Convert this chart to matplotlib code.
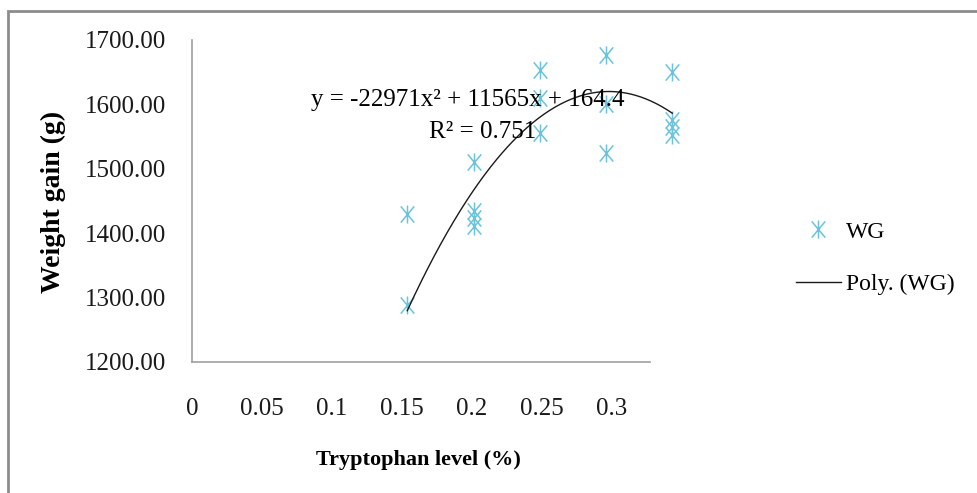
import numpy as np
import matplotlib
matplotlib.use('Agg')
import matplotlib.pyplot as plt
from matplotlib.path import Path
from matplotlib.lines import Line2D
from matplotlib.patches import Rectangle

# data
trp = [0.13, 0.13,
       0.17, 0.17, 0.17, 0.17,
       0.21, 0.21, 0.21,
       0.25, 0.25, 0.25,
       0.29, 0.29, 0.29, 0.29]
wg = [1430, 1289,
      1510, 1434, 1423, 1411,
      1653, 1610, 1555,
      1676, 1600, 1525,
      1651, 1576, 1565, 1553]

# trendline as printed on the chart
poly_coef = [-22971, 11565, 164.4]
eq_text = 'y = -22971x² + 11565x + 164.4'
r2_text = 'R² = 0.751'

yticks = [1200, 1300, 1400, 1500, 1600, 1700]
xticks = [0, 0.05, 0.1, 0.15, 0.2, 0.25, 0.3]
xticklabels = ['0', '0.05', '0.1', '0.15', '0.2', '0.25', '0.3']

plt.rcParams['font.family'] = ['Liberation Serif', 'DejaVu Serif']

W, H = 978, 493
fig = plt.figure(figsize=(W / 100, H / 100), dpi=100)

# outer chart frame (cut off on right and bottom)
fig.patches.append(Rectangle((8 / W, -0.1), 1.2, 1 - 11 / H + 0.1, transform=fig.transFigure,
                             fill=False, edgecolor='#8c8c8c', linewidth=2))

ax = fig.add_axes([192 / W, (H - 362) / H, (650 - 192) / W, (362 - 40) / H])
ax.set_xlim(0, 458 / 1656)
ax.set_ylim(1200, 1700)

star = Path([(0, -1), (0, 1), (-0.75, -0.9), (0.75, 0.9), (-0.75, 0.9), (0.75, -0.9)],
            [Path.MOVETO, Path.LINETO, Path.MOVETO, Path.LINETO, Path.MOVETO, Path.LINETO])

ax.plot(trp, wg, linestyle='none', marker=star, markersize=13, markeredgewidth=1.1,
        color='#6cc3da', clip_on=False, zorder=2)

xs = np.linspace(min(trp), max(trp), 200)
ax.plot(xs, np.polyval(poly_coef, xs), color='#1a1a1a', linewidth=1, clip_on=False, zorder=3)

for side in ['top', 'right']:
    ax.spines[side].set_visible(False)
for side in ['left', 'bottom']:
    ax.spines[side].set_color('#a0a0a0')
    ax.spines[side].set_linewidth(1.2)

ax.set_xticks([])
ax.set_yticks(yticks)
ax.set_yticklabels([f'{v:.2f}' for v in yticks])
ax.tick_params(axis='y', length=0, pad=19, labelsize=18, labelcolor='#1a1a1a')

sec = ax.secondary_xaxis('bottom', functions=(lambda x: x * 1656 / 1400, lambda x: x * 1400 / 1656))
sec.spines['bottom'].set_visible(False)
sec.set_xticks(xticks)
sec.set_xticklabels(xticklabels)
sec.tick_params(length=0, pad=26, labelsize=18, labelcolor='#1a1a1a')

ax.text(468 / W, (H - 100) / H, eq_text, transform=fig.transFigure, ha='center', va='center',
        fontsize=18, zorder=4)
ax.text(483 / W, (H - 132) / H, r2_text, transform=fig.transFigure, ha='center', va='center',
        fontsize=18, zorder=4)

fig.text(418 / W, (H - 460) / H, 'Tryptophan level (%)', ha='center', va='center',
         fontsize=16, fontweight='bold')
fig.text(53 / W, (H - 202) / H, 'Weight gain (g)', ha='center', va='center',
         fontsize=20, fontweight='bold', rotation=90)

handles = [Line2D([], [], linestyle='none', marker=star, markersize=13, markeredgewidth=1.1,
                  color='#6cc3da'),
           Line2D([], [], color='#1a1a1a', linewidth=1)]
fig.legend(handles, ['WG', 'Poly. (WG)'], loc='center left',
           bbox_to_anchor=(796 / W, (H - 258) / H), frameon=False, fontsize=17,
           handlelength=1.9, handletextpad=0.2, labelspacing=1.3, borderaxespad=0,
           borderpad=0)

fig.savefig('out.png', dpi=100)
